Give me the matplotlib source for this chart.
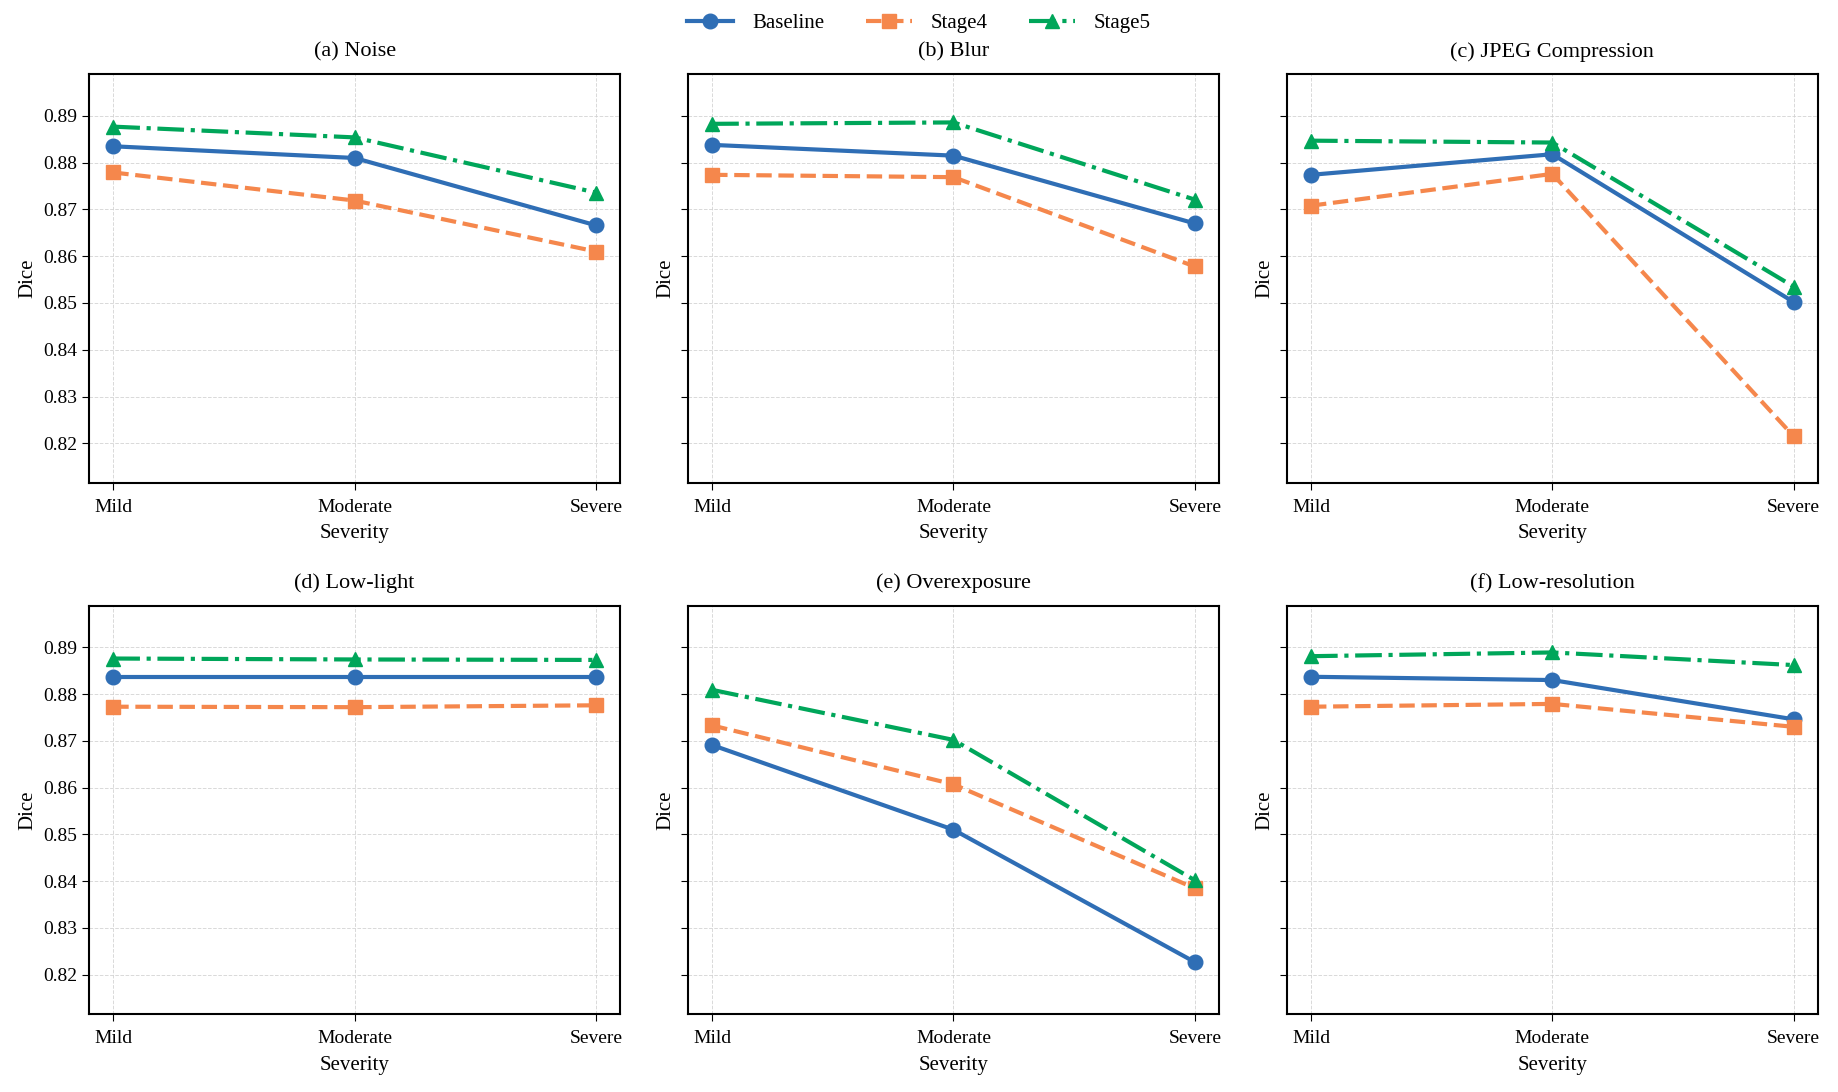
import numpy as np
import matplotlib
matplotlib.use("Agg")
import matplotlib.pyplot as plt

plt.rcParams['font.family'] = 'serif'
plt.rcParams['font.serif'] = ['Liberation Serif', 'DejaVu Serif']

severity = ['Mild', 'Moderate', 'Severe']
titles = ['(a) Noise', '(b) Blur', '(c) JPEG Compression',
          '(d) Low-light', '(e) Overexposure', '(f) Low-resolution']

# Dice per degradation: Mild, Moderate, Severe
baseline = [
    [0.8835, 0.8810, 0.8666],
    [0.8838, 0.8815, 0.8670],
    [0.8774, 0.8818, 0.8502],
    [0.8837, 0.8837, 0.8837],
    [0.8691, 0.8510, 0.8227],
    [0.8837, 0.8830, 0.8746],
]
stage4 = [
    [0.8779, 0.8719, 0.8610],
    [0.8774, 0.8769, 0.8578],
    [0.8708, 0.8776, 0.8215],
    [0.8773, 0.8772, 0.8776],
    [0.8733, 0.8607, 0.8385],
    [0.8773, 0.8779, 0.8730],
]
stage5 = [
    [0.8877, 0.8854, 0.8736],
    [0.8883, 0.8886, 0.8721],
    [0.8847, 0.8843, 0.8535],
    [0.8876, 0.8874, 0.8873],
    [0.8809, 0.8702, 0.8402],
    [0.8881, 0.8889, 0.8862],
]

c_base = '#2f6eb5'
c_s4 = '#f5874c'
c_s5 = '#00a65a'

fig, axes = plt.subplots(2, 3, figsize=(18.38, 10.92), dpi=100, sharey=True)
x = np.arange(len(severity))

allv = np.array(baseline + stage4 + stage5)
ymin, ymax = allv.min() - 0.01, allv.max() + 0.01

for i, ax in enumerate(axes.flat):
    ax.plot(x, baseline[i], color=c_base, ls='-', lw=3, marker='o', ms=10.5, label='Baseline')
    ax.plot(x, stage4[i], color=c_s4, ls='--', lw=3, marker='s', ms=10.5, label='Stage4')
    ax.plot(x, stage5[i], color=c_s5, ls='-.', lw=3, marker='^', ms=10.5, label='Stage5')
    ax.set_title(titles[i], fontsize=16, pad=12.5)
    ax.set_xticks(x)
    ax.set_xticklabels(severity, fontsize=14)
    ax.set_xlabel('Severity', fontsize=15, labelpad=6)
    ax.set_ylabel('Dice', fontsize=15)
    ax.tick_params(axis='y', labelsize=14, length=5)
    ax.tick_params(axis='x', length=5, pad=6.5)
    ax.set_xlim(-0.1, 2.1)
    ax.set_ylim(ymin, ymax)
    ax.grid(True, ls='--', lw=0.7, color='#d0d0d0', alpha=0.8)
    for s in ax.spines.values():
        s.set_linewidth(1.5)

h, l = axes[0, 0].get_legend_handles_labels()
fig.legend(h, l, loc='upper center', ncol=3, frameon=False, fontsize=15,
           bbox_to_anchor=(0.5, 1.005), columnspacing=2.0, handlelength=2.2,
           handletextpad=0.9)

plt.subplots_adjust(left=0.0485, right=0.989, top=0.932, bottom=0.071, wspace=0.128, hspace=0.30)
plt.savefig('out.png', dpi=100)
